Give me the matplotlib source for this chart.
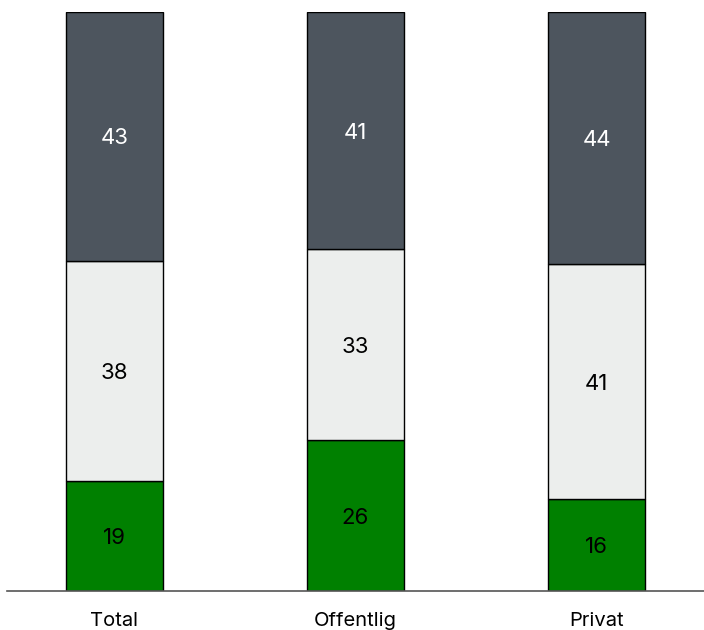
import matplotlib
matplotlib.use("Agg")
import matplotlib.pyplot as plt
import numpy as np

plt.rcParams['font.family'] = ['Inter', 'DejaVu Sans']

# data
categories = ["Total", "Offentlig", "Privat"]
bottom_vals = [19, 26, 16]   # green
middle_vals = [38, 33, 41]   # light grey
top_vals = [43, 41, 44]      # dark grey

colors = ["#008000", "#eceeed", "#4d555e"]
text_colors = ["black", "black", "white"]

fig = plt.figure(figsize=(7.04, 6.3), dpi=100)
ax = fig.add_axes([7/704, 39/630, 697/704, 579/630])

x = np.arange(len(categories))
stack = np.array([bottom_vals, middle_vals, top_vals], dtype=float)
# bars are shown as share of 100 (labels are rounded)
shares = stack / stack.sum(axis=0) * 100

base = np.zeros(len(categories))
for i in range(3):
    ax.bar(x, shares[i], bottom=base, width=0.4, color=colors[i],
           edgecolor="black", linewidth=1)
    for j in range(len(categories)):
        ax.text(x[j], base[j] + shares[i][j] / 2, str(int(stack[i][j])),
                ha="center", va="center_baseline", fontsize=16,
                color=text_colors[i])
    base += shares[i]

ax.set_xlim(-0.446, 2.446)
ax.set_ylim(0, 100)
ax.set_xticks(x)
ax.set_xticklabels(categories, fontsize=14.5)
ax.tick_params(axis="x", length=0, pad=15)
ax.set_yticks([])
for s in ["top", "right", "left"]:
    ax.spines[s].set_visible(False)
ax.spines["bottom"].set_color("#555555")
ax.spines["bottom"].set_linewidth(1.2)

plt.savefig("out.png", dpi=100)
